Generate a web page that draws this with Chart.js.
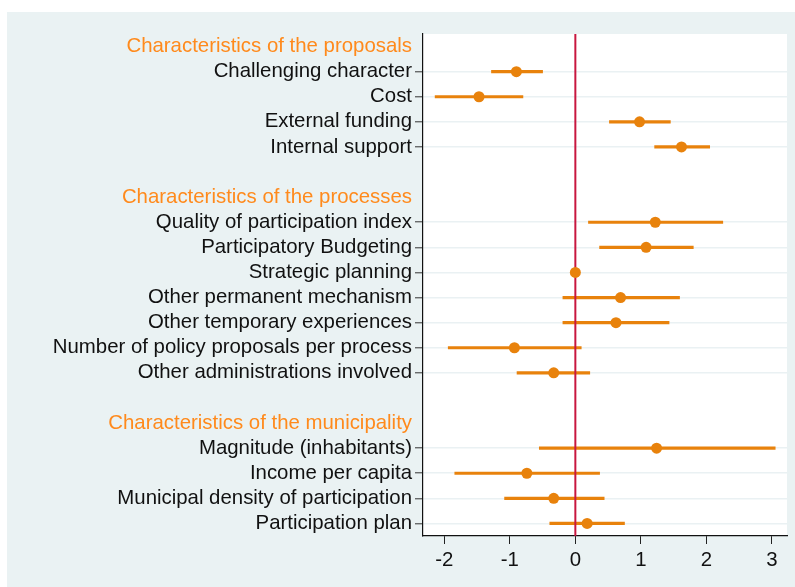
<!DOCTYPE html>
<html>
<head>
<meta charset="utf-8">
<script src="https://cdn.jsdelivr.net/npm/chart.js@4"></script>
<style>
    html, body { margin: 0; padding: 0; background: #ffffff; }
    #wrap { position: absolute; left: 7px; top: 12px; width: 788px; height: 575px; background: #eaf2f3; }
    canvas { display: block; }
</style>
</head>
<body>
<div id="wrap"><canvas id="coefplot" width="788" height="575"></canvas></div>
<script>
    // rows from top to bottom; '' rows are spacers between groups
    var categories = [
        'Characteristics of the proposals',
        'Challenging character', 'Cost', 'External funding', 'Internal support',
        '',
        'Characteristics of the processes',
        'Quality of participation index', 'Participatory Budgeting', 'Strategic planning',
        'Other permanent mechanism', 'Other temporary experiences',
        'Number of policy proposals per process', 'Other administrations involved',
        '',
        'Characteristics of the municipality',
        'Magnitude (inhabitants)', 'Income per capita',
        'Municipal density of participation', 'Participation plan'
    ];
    var headers = [
        'Characteristics of the proposals',
        'Characteristics of the processes',
        'Characteristics of the municipality'
    ];

    var estimates = [null, -0.90, -1.47, 0.98, 1.62, null, null, 1.22, 1.08, 0, 0.69, 0.62, -0.93, -0.33, null, null, 1.24, -0.74, -0.33, 0.18];
    var ciLow     = [null, -1.28, -2.14, 0.52, 1.21, null, null, 0.20, 0.37, null, -0.19, -0.19, -1.94, -0.89, null, null, -0.55, -1.84, -1.08, -0.39];
    var ciHigh    = [null, -0.50, -0.80, 1.45, 2.05, null, null, 2.25, 1.80, null, 1.59, 1.43, 0.09, 0.22, null, null, 3.05, 0.37, 0.44, 0.75];

    var xTicks = [-2, -1, 0, 1, 2, 3];

    var ORANGE = '#e8820c';
    var HEAD = '#ff8a1c';
    var FONT = { family: 'Liberation Sans, Arial, sans-serif', size: 20.4 };

    function isItem(i) {
        var c = categories[i];
        return c !== '' && headers.indexOf(c) === -1;
    }

    var ciBars = categories.map(function (c, i) {
        return (ciLow[i] === null) ? null : [ciLow[i], ciHigh[i]];
    });

    // white plot region + zero line between bars and points
    var plotBits = {
        id: 'plotBits',
        beforeDraw: function (chart) {
            var a = chart.chartArea;
            var ctx = chart.ctx;
            ctx.save();
            ctx.fillStyle = '#ffffff';
            ctx.fillRect(a.left, a.top, a.right - a.left, a.bottom - a.top);
            ctx.restore();
        },
        afterDatasetDraw: function (chart, args) {
            if (args.index !== 0) return;
            var a = chart.chartArea;
            var x = chart.scales.x.getPixelForValue(0);
            var ctx = chart.ctx;
            ctx.save();
            ctx.strokeStyle = '#c8173f';
            ctx.lineWidth = 2;
            ctx.beginPath();
            ctx.moveTo(x, a.top);
            ctx.lineTo(x, a.bottom);
            ctx.stroke();
            ctx.restore();
        }
    };

    new Chart(document.getElementById('coefplot'), {
        type: 'bar',
        data: {
            labels: categories,
            datasets: [
                {
                    type: 'bar',
                    data: ciBars,
                    backgroundColor: ORANGE,
                    borderWidth: 0,
                    barThickness: 2.5,
                    order: 1
                },
                {
                    type: 'line',
                    indexAxis: 'y',
                    data: estimates,
                    showLine: false,
                    pointRadius: 5.5,
                    pointBackgroundColor: ORANGE,
                    pointBorderWidth: 0,
                    order: 0
                }
            ]
        },
        options: {
            indexAxis: 'y',
            responsive: false,
            animation: false,
            layout: { padding: { top: 22, right: 8, left: 0, bottom: 0 } },
            plugins: { legend: { display: false }, tooltip: { enabled: false } },
            scales: {
                x: {
                    type: 'linear',
                    min: -2.325,
                    max: 3.23,
                    afterBuildTicks: function (scale) {
                        scale.ticks = xTicks.map(function (v) { return { value: v }; });
                    },
                    afterFit: function (scale) { scale.height = 51; },
                    grid: { drawOnChartArea: false, drawTicks: true, tickLength: 8, tickColor: '#222', tickWidth: 1 },
                    border: { color: '#111', width: 1.2 },
                    ticks: {
                        color: '#111',
                        padding: 4,
                        font: FONT
                    }
                },
                y: {
                    type: 'category',
                    offset: true,
                    afterFit: function (scale) { scale.width = 416; },
                    grid: {
                        offset: false,
                        drawTicks: true,
                        tickLength: 8,
                        lineWidth: 1.6,
                        color: function (c) { return isItem(c.index) ? '#eaf1f3' : 'rgba(0,0,0,0)'; },
                        tickColor: function (c) { return isItem(c.index) ? '#333' : 'rgba(0,0,0,0)'; },
                        tickWidth: 1
                    },
                    border: { color: '#111', width: 1.2 },
                    ticks: {
                        autoSkip: false,
                        padding: 3,
                        color: function (c) { return isItem(c.index) ? '#111' : HEAD; },
                        font: FONT
                    }
                }
            }
        },
        plugins: [plotBits]
    });
</script>
</body>
</html>
